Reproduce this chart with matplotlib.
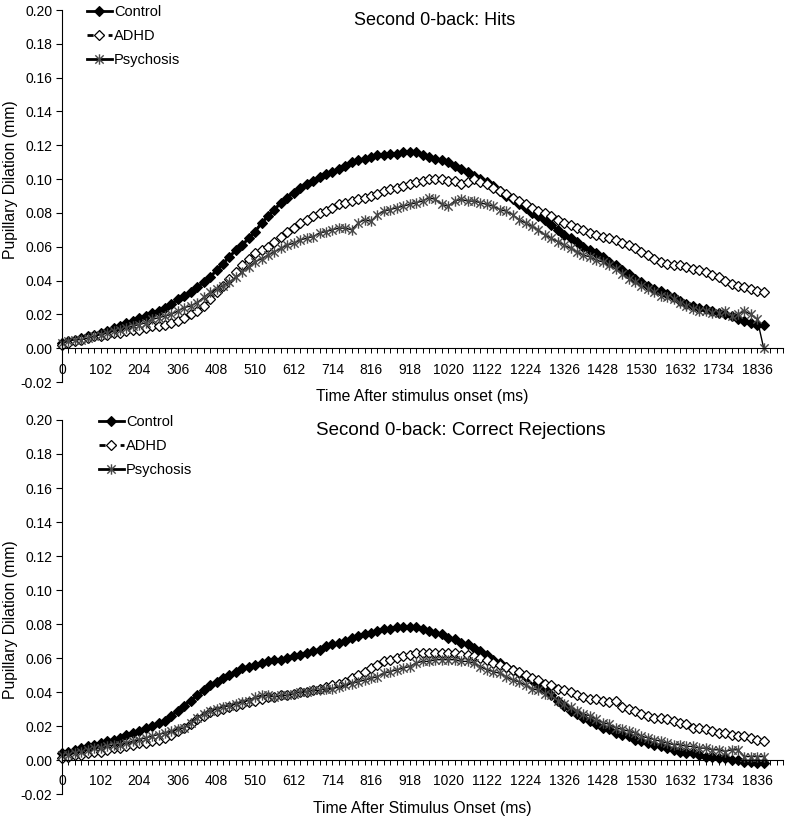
import numpy as np
import matplotlib
matplotlib.use("Agg")
import matplotlib.pyplot as plt
from matplotlib.path import Path
from matplotlib.lines import Line2D

plt.rcParams['font.family'] = ['Liberation Sans', 'DejaVu Sans']

# categories: sample times (ms), one sample every 17 ms
time_ms = [17 * i for i in range(110)]
tick_labels = [str(t) for t in range(0, 1837, 102)]

# ---- Panel 1: Hits ----
hits_control = [
    0.003, 0.004, 0.005, 0.006, 0.007, 0.008, 0.009, 0.010, 0.012, 0.013,
    0.015, 0.016, 0.018, 0.019, 0.021, 0.022, 0.024, 0.026, 0.029, 0.031,
    0.033, 0.036, 0.039, 0.042, 0.046, 0.050, 0.054, 0.058, 0.061, 0.065,
    0.069, 0.074, 0.078, 0.082, 0.086, 0.089, 0.092, 0.095, 0.097, 0.099,
    0.101, 0.103, 0.104, 0.106, 0.108, 0.110, 0.111, 0.112, 0.113, 0.114,
    0.114, 0.115, 0.115, 0.116, 0.116, 0.116, 0.114, 0.113, 0.112, 0.111,
    0.110, 0.108, 0.106, 0.104, 0.102, 0.100, 0.098, 0.096, 0.093, 0.090,
    0.088, 0.085, 0.083, 0.080, 0.078, 0.076, 0.073, 0.070, 0.067, 0.065,
    0.063, 0.060, 0.058, 0.056, 0.054, 0.051, 0.049, 0.046, 0.044, 0.041,
    0.039, 0.037, 0.035, 0.034, 0.032, 0.030, 0.028, 0.026, 0.025, 0.024,
    0.023, 0.022, 0.021, 0.020, 0.019, 0.017, 0.016, 0.015, 0.014, 0.014]
hits_adhd = [
    0.002, 0.003, 0.004, 0.005, 0.006, 0.007, 0.007, 0.008, 0.009, 0.009,
    0.010, 0.011, 0.011, 0.012, 0.013, 0.013, 0.014, 0.015, 0.016, 0.018,
    0.020, 0.022, 0.025, 0.029, 0.033, 0.037, 0.041, 0.045, 0.049, 0.053,
    0.056, 0.058, 0.060, 0.063, 0.066, 0.069, 0.071, 0.074, 0.076, 0.078,
    0.080, 0.081, 0.083, 0.085, 0.086, 0.087, 0.088, 0.089, 0.090, 0.091,
    0.093, 0.094, 0.095, 0.096, 0.097, 0.098, 0.099, 0.100, 0.100, 0.100,
    0.099, 0.099, 0.097, 0.098, 0.100, 0.098, 0.097, 0.095, 0.093, 0.091,
    0.089, 0.087, 0.085, 0.083, 0.081, 0.080, 0.078, 0.076, 0.074, 0.073,
    0.071, 0.070, 0.068, 0.067, 0.066, 0.065, 0.064, 0.062, 0.061, 0.059,
    0.057, 0.055, 0.053, 0.051, 0.050, 0.049, 0.049, 0.048, 0.047, 0.046,
    0.045, 0.043, 0.042, 0.040, 0.038, 0.037, 0.036, 0.035, 0.034, 0.033]
hits_psychosis = [
    0.003, 0.004, 0.005, 0.005, 0.006, 0.007, 0.008, 0.009, 0.010, 0.011,
    0.012, 0.013, 0.014, 0.015, 0.017, 0.018, 0.019, 0.020, 0.022, 0.024,
    0.025, 0.027, 0.030, 0.033, 0.035, 0.037, 0.039, 0.042, 0.045, 0.048,
    0.051, 0.053, 0.055, 0.057, 0.059, 0.061, 0.062, 0.064, 0.065, 0.066,
    0.068, 0.069, 0.070, 0.071, 0.071, 0.070, 0.074, 0.076, 0.075, 0.079,
    0.081, 0.082, 0.083, 0.084, 0.085, 0.086, 0.087, 0.089, 0.088, 0.085,
    0.084, 0.087, 0.088, 0.087, 0.087, 0.086, 0.085, 0.084, 0.082, 0.081,
    0.079, 0.076, 0.074, 0.072, 0.070, 0.067, 0.065, 0.063, 0.061, 0.059,
    0.057, 0.055, 0.054, 0.052, 0.051, 0.049, 0.047, 0.044, 0.041, 0.039,
    0.037, 0.035, 0.033, 0.031, 0.030, 0.029, 0.027, 0.025, 0.023, 0.022,
    0.022, 0.021, 0.021, 0.022, 0.019, 0.020, 0.022, 0.020, 0.017, 0.000]

# ---- Panel 2: Correct Rejections ----
cr_control = [
    0.004, 0.005, 0.006, 0.007, 0.008, 0.009, 0.010, 0.011, 0.012, 0.013,
    0.015, 0.016, 0.017, 0.019, 0.020, 0.022, 0.023, 0.026, 0.029, 0.032,
    0.035, 0.038, 0.041, 0.044, 0.046, 0.048, 0.050, 0.052, 0.054, 0.055,
    0.056, 0.057, 0.058, 0.059, 0.059, 0.060, 0.061, 0.062, 0.063, 0.064,
    0.065, 0.067, 0.068, 0.069, 0.070, 0.072, 0.073, 0.074, 0.075, 0.076,
    0.077, 0.077, 0.078, 0.078, 0.078, 0.078, 0.077, 0.076, 0.075, 0.074,
    0.072, 0.071, 0.069, 0.068, 0.066, 0.064, 0.062, 0.059, 0.057, 0.055,
    0.053, 0.051, 0.049, 0.047, 0.044, 0.041, 0.038, 0.035, 0.032, 0.029,
    0.027, 0.025, 0.023, 0.021, 0.019, 0.018, 0.016, 0.015, 0.014, 0.012,
    0.011, 0.010, 0.009, 0.008, 0.007, 0.006, 0.005, 0.004, 0.004, 0.003,
    0.002, 0.002, 0.001, 0.001, 0.000, 0.000, -0.001, -0.001, -0.002, -0.002]
cr_adhd = [
    0.001, 0.002, 0.003, 0.003, 0.004, 0.005, 0.005, 0.006, 0.007, 0.007,
    0.008, 0.009, 0.010, 0.010, 0.011, 0.012, 0.013, 0.015, 0.017, 0.019,
    0.021, 0.024, 0.026, 0.028, 0.029, 0.030, 0.031, 0.032, 0.033, 0.034,
    0.035, 0.036, 0.037, 0.037, 0.038, 0.038, 0.039, 0.040, 0.040, 0.041,
    0.042, 0.043, 0.044, 0.045, 0.046, 0.048, 0.050, 0.052, 0.054, 0.056,
    0.058, 0.059, 0.060, 0.061, 0.062, 0.063, 0.063, 0.063, 0.063, 0.063,
    0.063, 0.063, 0.062, 0.062, 0.061, 0.060, 0.059, 0.057, 0.056, 0.055,
    0.053, 0.052, 0.050, 0.048, 0.047, 0.045, 0.044, 0.042, 0.041, 0.040,
    0.038, 0.037, 0.036, 0.036, 0.035, 0.034, 0.035, 0.031, 0.030, 0.029,
    0.027, 0.026, 0.025, 0.025, 0.024, 0.023, 0.022, 0.021, 0.019, 0.019,
    0.018, 0.017, 0.016, 0.016, 0.015, 0.014, 0.014, 0.013, 0.012, 0.011]
cr_psychosis = [
    0.003, 0.003, 0.004, 0.005, 0.006, 0.007, 0.007, 0.008, 0.009, 0.009,
    0.010, 0.011, 0.012, 0.013, 0.014, 0.015, 0.016, 0.017, 0.018, 0.019,
    0.022, 0.025, 0.027, 0.029, 0.030, 0.031, 0.032, 0.033, 0.034, 0.035,
    0.037, 0.038, 0.038, 0.037, 0.038, 0.038, 0.039, 0.040, 0.040, 0.041,
    0.041, 0.042, 0.042, 0.043, 0.044, 0.045, 0.046, 0.047, 0.048, 0.049,
    0.051, 0.052, 0.053, 0.054, 0.055, 0.057, 0.058, 0.058, 0.059, 0.059,
    0.059, 0.059, 0.058, 0.058, 0.057, 0.055, 0.053, 0.052, 0.051, 0.049,
    0.047, 0.046, 0.044, 0.042, 0.041, 0.039, 0.038, 0.035, 0.033, 0.031,
    0.029, 0.027, 0.026, 0.024, 0.022, 0.021, 0.019, 0.018, 0.017, 0.016,
    0.014, 0.013, 0.012, 0.011, 0.010, 0.009, 0.009, 0.008, 0.008, 0.007,
    0.007, 0.006, 0.006, 0.005, 0.006, 0.006, 0.002, 0.002, 0.002, 0.002]

series_names = ["Control", "ADHD", "Psychosis"]
titles = ["Second 0-back: Hits", "Second 0-back: Correct Rejections"]
xlabels = ["Time After stimulus onset (ms)", "Time After Stimulus Onset (ms)"]
ylabel = "Pupillary Dilation (mm)"

star = Path([(-1, -1), (1, 1), (-1, 1), (1, -1), (0, -1.25), (0, 1.25)],
            [Path.MOVETO, Path.LINETO, Path.MOVETO, Path.LINETO, Path.MOVETO, Path.LINETO])

styles = [
    dict(color='black', lw=2.2, ls='-', marker='D', ms=4.8, mfc='black', mec='black', mew=0.8),
    dict(color='black', lw=1.2, ls=(0, (3, 2)), marker='D', ms=5.2, mfc='white', mec='black', mew=0.9),
    dict(color='black', lw=1.0, ls='-', marker=star, ms=7.5, mfc='none', mec='#484848', mew=1.0),
]
legend_ls = ['-', (0, (2.2, 1.6)), '-']

fig = plt.figure(figsize=(8.0, 8.21), dpi=100)
W, H = 800.0, 821.0
# axes pixel geometry: (left, top, right, bottom)
geoms = [(62, 10, 783, 382), (62, 420, 783, 794)]
title_pos = [(0.517, 0.972), (0.553, 0.972)]
title_size = [13, 13.5]
xlabel_y = [396, 808]
ylabel_y = [180, 620]
legend_x = [81, 93]

panels = [
    [hits_control, hits_adhd, hits_psychosis],
    [cr_control, cr_adhd, cr_psychosis],
]

for k, data in enumerate(panels):
    l, t, r, b = geoms[k]
    ax = fig.add_axes([l / W, 1 - b / H, (r - l) / W, (b - t) / H])
    handles = []
    for name, vals, st, lls in zip(series_names, data, styles, legend_ls):
        ax.plot(time_ms, vals, color=st['color'], lw=st['lw'], ls=st['ls'],
                marker=st['marker'], ms=st['ms'], mfc=st['mfc'], mec=st['mec'],
                mew=st['mew'], clip_on=False)
        handles.append(Line2D([], [], color='black', lw=2.0, ls=lls,
                              marker=st['marker'], ms=st['ms'], mfc=st['mfc'],
                              mec=st['mec'], mew=st['mew'], label=name))
    ax.set_xlim(0, 1904)
    ax.set_ylim(-0.02, 0.20)
    ax.spines['top'].set_visible(False)
    ax.spines['right'].set_visible(False)
    ax.spines['bottom'].set_position(('data', 0))
    ax.spines['left'].set_linewidth(0.8)
    ax.spines['bottom'].set_linewidth(0.8)
    yt = np.arange(-0.02, 0.2001, 0.02)
    ax.set_yticks(yt)
    ax.set_yticklabels([f"{v:.2f}" for v in yt])
    ax.set_xticks(list(range(0, 1837, 102)))
    ax.set_xticklabels(tick_labels)
    ax.set_xticks(list(range(0, 1905, 17)), minor=True)
    ax.tick_params(axis='y', direction='out', length=4, width=0.8, labelsize=10, pad=3)
    ax.tick_params(axis='x', which='both', direction='out', length=3.4, width=0.7,
                   labelsize=10, pad=7)
    ax.text(title_pos[k][0], title_pos[k][1], titles[k], transform=ax.transAxes,
            ha='center', va='center', fontsize=title_size[k])
    fig.text((l + r) / 2 / W, 1 - xlabel_y[k] / H, xlabels[k], ha='center', va='center',
             fontsize=11.3)
    fig.text(11 / W, 1 - ylabel_y[k] / H, ylabel, rotation=90, ha='center', va='center',
             fontsize=11.3)
    ax.legend(handles=handles, loc='upper left',
              bbox_to_anchor=((legend_x[k] - l) / (r - l), 1.03),
              frameon=False, fontsize=10.5, handlelength=1.7, handletextpad=0.15,
              labelspacing=0.7, borderaxespad=0)

fig.savefig("out.png", dpi=100)
